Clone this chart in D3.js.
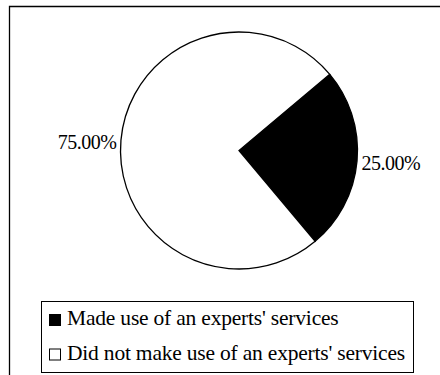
<!DOCTYPE html>
<html>
<head>
<meta charset="utf-8">
<script src="https://cdn.jsdelivr.net/npm/d3@7"></script>
<style>
  body { margin: 0; background: #fff; }
  text { font-family: "Liberation Serif", "Times New Roman", serif; }
</style>
</head>
<body>
<script>
// chart data
var categories = ["Made use of an experts' services", "Did not make use of an experts' services"];
var values = [25, 75];
var valueLabels = ["25.00%", "75.00%"];
var colours = ["#000000", "#ffffff"];

var w = 440;
var h = 375;
var cx = 239, cy = 150.5, radius = 118.5;
var startDeg = 50;

var svg = d3.select("body").append("svg")
  .attr("width", w)
  .attr("height", h);

svg.append("rect")
  .attr("width", w).attr("height", h)
  .attr("fill", "#fff");

// outer chart frame (runs off the right and bottom edges)
svg.append("path")
  .attr("d", "M9.5," + (h + 5) + "V6.5H" + (w + 5))
  .attr("fill", "none")
  .attr("stroke", "#000")
  .attr("stroke-width", 1.3);

var data = categories.map(function(c, i) {
  return { name: c, value: values[i], label: valueLabels[i], colour: colours[i] };
});

var start = startDeg * Math.PI / 180;
var pie = d3.pie()
  .sort(null)
  .value(function(d) { return d.value; })
  .startAngle(start)
  .endAngle(start + 2 * Math.PI);

var arc = d3.arc().innerRadius(0).outerRadius(radius);
var labelArc = d3.arc().innerRadius(123).outerRadius(123);

var g = svg.append("g").attr("transform", "translate(" + cx + "," + cy + ")");

var slices = pie(data);

g.selectAll("path.slice")
  .data(slices)
  .enter()
  .append("path")
  .attr("class", "slice")
  .attr("d", arc)
  .attr("fill", function(d) { return d.data.colour; })
  .attr("stroke", "#000")
  .attr("stroke-width", 1.3);

g.selectAll("text.lbl")
  .data(slices)
  .enter()
  .append("text")
  .attr("class", "lbl")
  .attr("x", function(d) { return labelArc.centroid(d)[0]; })
  .attr("y", function(d) { return labelArc.centroid(d)[1]; })
  .attr("dy", "0.45em")
  .attr("text-anchor", function(d) {
    var mid = (d.startAngle + d.endAngle) / 2 % (2 * Math.PI);
    return mid < Math.PI ? "start" : "end";
  })
  .style("font-size", "20px")
  .style("letter-spacing", "-0.5px")
  .text(function(d) { return d.data.label; });

// legend
var legend = svg.append("g");
legend.append("rect")
  .attr("x", 41.5).attr("y", 301.5)
  .attr("width", 372).attr("height", 71)
  .attr("fill", "#fff")
  .attr("stroke", "#000")
  .attr("stroke-width", 1);

var rows = legend.selectAll("g.row")
  .data(data)
  .enter()
  .append("g")
  .attr("class", "row")
  .attr("transform", function(d, i) { return "translate(0," + (325 + i * 34.5) + ")"; });

rows.append("rect")
  .attr("x", 49.5).attr("y", -10.5)
  .attr("width", 11).attr("height", 11)
  .attr("fill", function(d) { return d.colour; })
  .attr("stroke", "#000")
  .attr("stroke-width", 1);

rows.append("text")
  .attr("x", 67)
  .attr("y", 0)
  .style("font-size", "21.5px")
  .style("letter-spacing", "-0.2px")
  .text(function(d) { return d.name; });
</script>
</body>
</html>
